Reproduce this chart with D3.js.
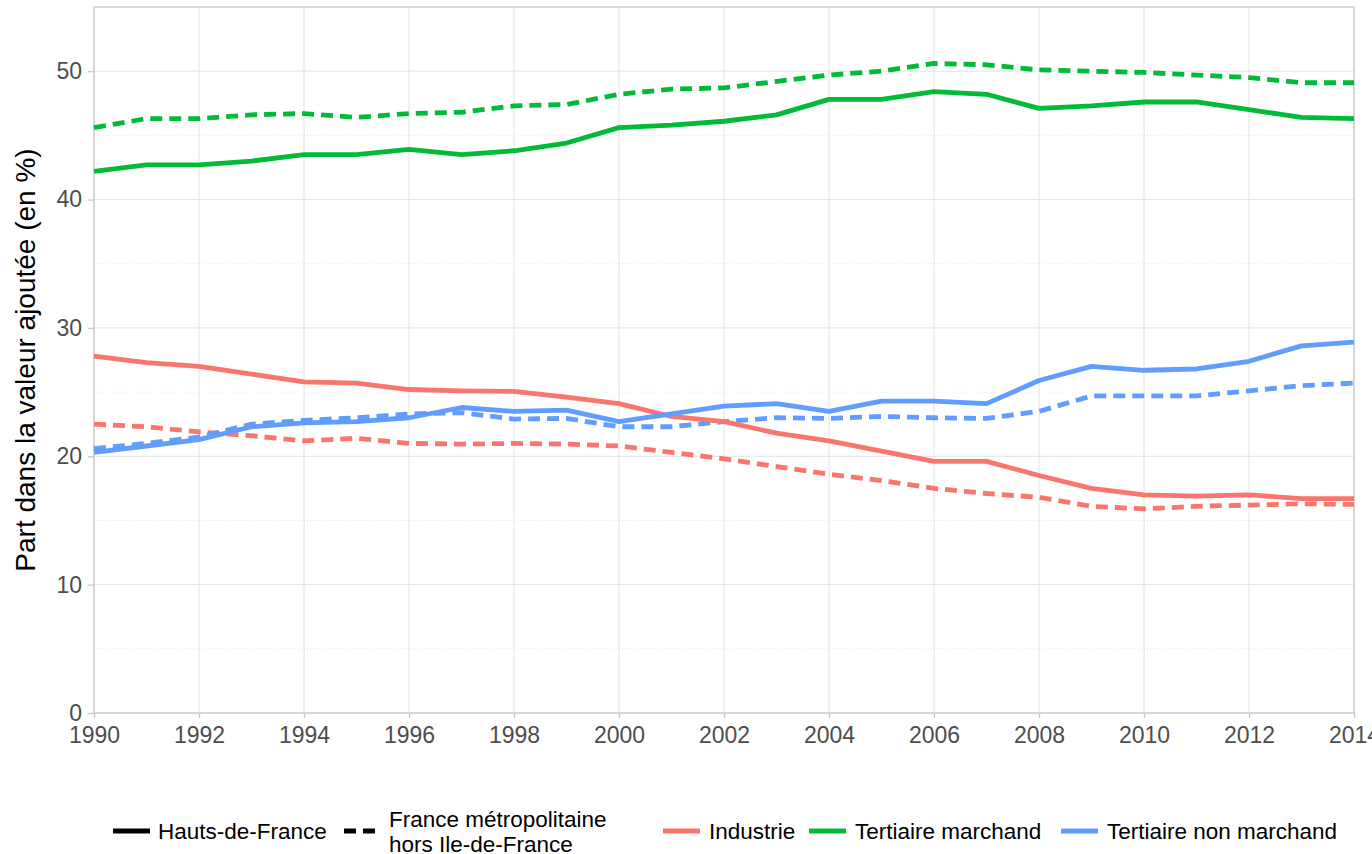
<!DOCTYPE html>
<html>
<head>
<meta charset="utf-8">
<script src="https://cdn.jsdelivr.net/npm/d3@7"></script>
<style>
  body { margin: 0; background: #fff; }
  text { font-family: "Liberation Sans", Arial, sans-serif; }
</style>
</head>
<body>
<div id="chart"></div>
<script>
var years = d3.range(1990, 2015)

// Hauts-de-France (solid)
var industrieHdf = [27.8, 27.3, 27.0, 26.4, 25.8, 25.7, 25.2, 25.1, 25.05, 24.6, 24.1, 23.1, 22.7, 21.8, 21.2, 20.4, 19.6, 19.6, 18.5, 17.5, 17.0, 16.9, 17.0, 16.7, 16.7]
var marchandHdf = [42.2, 42.7, 42.7, 43.0, 43.5, 43.5, 43.9, 43.5, 43.8, 44.4, 45.6, 45.8, 46.1, 46.6, 47.8, 47.8, 48.4, 48.2, 47.1, 47.3, 47.6, 47.6, 47.0, 46.4, 46.3]
var nonMarchandHdf = [20.3, 20.8, 21.3, 22.3, 22.6, 22.7, 23.0, 23.8, 23.5, 23.6, 22.7, 23.3, 23.9, 24.1, 23.5, 24.3, 24.3, 24.1, 25.9, 27.0, 26.7, 26.8, 27.4, 28.6, 28.9]

// France metropolitaine hors Ile-de-France (dashed)
var industrieFr = [22.5, 22.3, 21.9, 21.6, 21.2, 21.4, 21.0, 20.95, 21.0, 20.95, 20.8, 20.3, 19.8, 19.2, 18.6, 18.1, 17.5, 17.1, 16.8, 16.1, 15.9, 16.1, 16.2, 16.3, 16.25]
var marchandFr = [45.6, 46.3, 46.3, 46.6, 46.7, 46.4, 46.7, 46.8, 47.3, 47.4, 48.2, 48.6, 48.7, 49.2, 49.7, 50.0, 50.6, 50.5, 50.1, 50.0, 49.9, 49.7, 49.5, 49.1, 49.1]
var nonMarchandFr = [20.6, 21.0, 21.5, 22.5, 22.8, 23.0, 23.3, 23.4, 22.9, 22.95, 22.3, 22.3, 22.7, 23.0, 22.95, 23.1, 23.0, 22.95, 23.5, 24.7, 24.7, 24.7, 25.1, 25.5, 25.7]

var secteurs = ['Industrie', 'Tertiaire marchand', 'Tertiaire non marchand']
var couleurs = ['#F8766D', '#00BA38', '#619CFF']
var zones = ['Hauts-de-France', 'France métropolitaine\nhors Ile-de-France']
var xTicks = d3.range(1990, 2015, 2)
var yTicks = [0, 10, 20, 30, 40, 50]

var series = [
  { secteur: 0, zone: 1, values: industrieFr },
  { secteur: 1, zone: 1, values: marchandFr },
  { secteur: 2, zone: 1, values: nonMarchandFr },
  { secteur: 0, zone: 0, values: industrieHdf },
  { secteur: 1, zone: 0, values: marchandHdf },
  { secteur: 2, zone: 0, values: nonMarchandHdf }
]

var width = 1372, height = 854
var margin = { left: 94, right: 18, top: 7, bottom: 141 }
var dash = '12,7'
var lw = 4.8

var svg = d3.select('#chart').append('svg')
  .attr('width', width)
  .attr('height', height)

var x = d3.scaleLinear().domain([1990, 2014]).range([margin.left, width - margin.right])
var y = d3.scaleLinear().domain([0, 55]).range([height - margin.bottom, margin.top])

// minor grid
svg.append('g').selectAll('line')
  .data([5, 15, 25, 35, 45])
  .enter().append('line')
  .attr('x1', x.range()[0]).attr('x2', x.range()[1])
  .attr('y1', d => y(d)).attr('y2', d => y(d))
  .attr('stroke', '#e3e3e3')
  .attr('stroke-dasharray', '1,2')

// major grid
svg.append('g').selectAll('line')
  .data(yTicks)
  .enter().append('line')
  .attr('x1', x.range()[0]).attr('x2', x.range()[1])
  .attr('y1', d => y(d)).attr('y2', d => y(d))
  .attr('stroke', '#e3e3e3')
svg.append('g').selectAll('line')
  .data(xTicks)
  .enter().append('line')
  .attr('x1', d => x(d)).attr('x2', d => x(d))
  .attr('y1', y.range()[0]).attr('y2', y.range()[1])
  .attr('stroke', '#e3e3e3')

// panel border
svg.append('rect')
  .attr('x', x.range()[0]).attr('y', y.range()[1])
  .attr('width', x.range()[1] - x.range()[0])
  .attr('height', y.range()[0] - y.range()[1])
  .attr('fill', 'none')
  .attr('stroke', '#c8c8c8')
  .attr('stroke-width', 1.3)

// axes
var xAxis = svg.append('g')
  .attr('transform', `translate(0,${y(0)})`)
  .call(d3.axisBottom(x).tickValues(xTicks).tickFormat(d3.format('d')).tickSize(5).tickPadding(9))
var yAxis = svg.append('g')
  .attr('transform', `translate(${x(1990)},0)`)
  .call(d3.axisLeft(y).tickValues(yTicks).tickSize(6).tickPadding(6))

;[xAxis, yAxis].forEach(function (a) {
  a.select('.domain').remove()
  a.selectAll('line').attr('stroke', '#c8c8c8').attr('stroke-width', 1.3)
  a.selectAll('text')
    .attr('fill', '#4d4d4d')
    .style('font-size', '23px')
})

svg.append('text')
  .attr('transform', `translate(35,${(y.range()[0] + y.range()[1]) / 2}) rotate(-90)`)
  .attr('text-anchor', 'middle')
  .style('font-size', '28px')
  .attr('fill', '#000')
  .text('Part dans la valeur ajoutée (en %)')

// lines
var line = d3.line()
  .x((d, i) => x(years[i]))
  .y(d => y(d))

svg.append('g').selectAll('path')
  .data(series)
  .enter().append('path')
  .attr('d', d => line(d.values))
  .attr('fill', 'none')
  .attr('stroke', d => couleurs[d.secteur])
  .attr('stroke-width', lw)
  .attr('stroke-linejoin', 'round')
  .attr('stroke-dasharray', d => d.zone === 1 ? dash : null)

// legend
var legY = 831
var fs = '22.5px'
var leg = svg.append('g')

function key(x0, color, dashed) {
  leg.append('line')
    .attr('x1', x0).attr('x2', x0 + 37)
    .attr('y1', legY).attr('y2', legY)
    .attr('stroke', color)
    .attr('stroke-width', lw)
    .attr('stroke-dasharray', dashed ? dash : null)
}

key(113, '#000', false)
leg.append('text').attr('x', 158).attr('y', legY).attr('dy', '0.35em')
  .style('font-size', fs).text(zones[0])
key(344, '#000', true)
zones[1].split('\n').forEach(function (t, i) {
  leg.append('text').attr('x', 389).attr('y', legY - 12 + i * 25).attr('dy', '0.35em')
    .style('font-size', fs).text(t)
})

var keyX = [663, 809, 1061]
secteurs.forEach(function (s, i) {
  key(keyX[i], couleurs[i], false)
  leg.append('text').attr('x', keyX[i] + 46).attr('y', legY).attr('dy', '0.35em')
    .style('font-size', fs).text(s)
})
</script>
</body>
</html>
